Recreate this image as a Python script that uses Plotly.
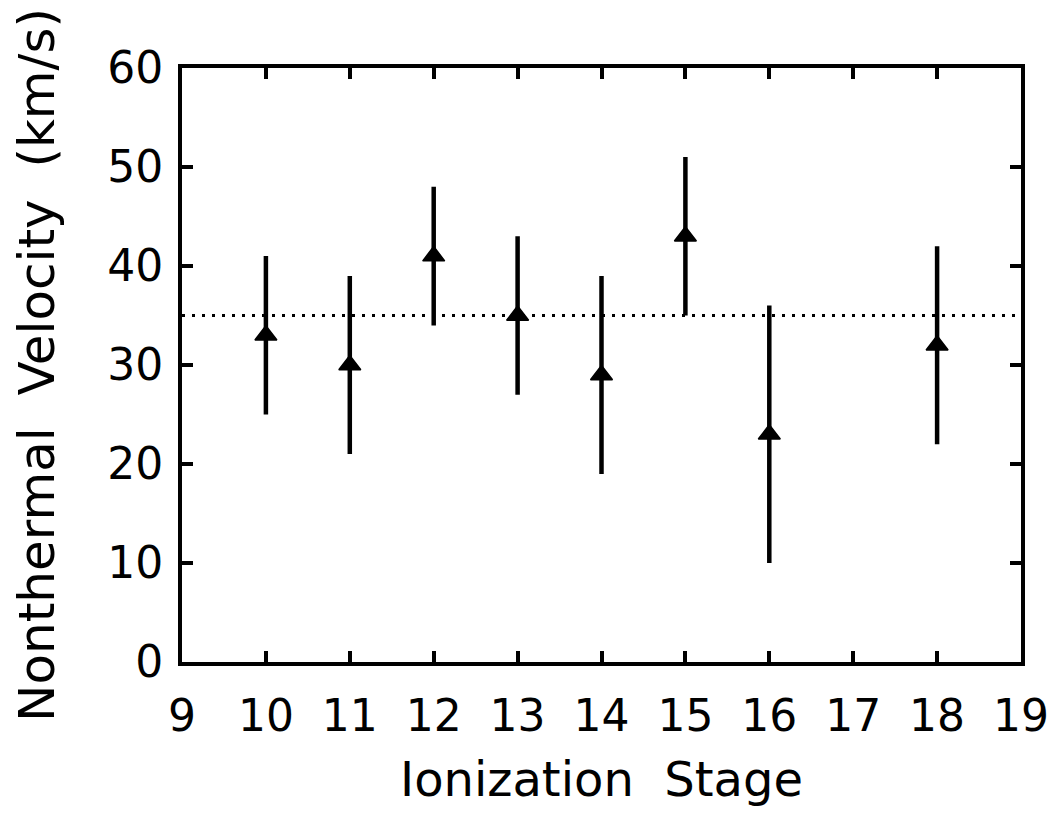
import plotly.graph_objects as go

stage = [10, 11, 12, 13, 14, 15, 16, 18]
velocity = [33, 30, 41, 35, 29, 43, 23, 32]
err_low = [25, 21, 34, 27, 19, 35, 10, 22]
err_high = [41, 39, 48, 43, 39, 51, 36, 42]
mean_level = 35
x_ticks = list(range(9, 20))
y_ticks = [0, 10, 20, 30, 40, 50, 60]

err_plus = [h - v for h, v in zip(err_high, velocity)]
err_minus = [v - l for l, v in zip(err_low, velocity)]

FONT = "DejaVu Sans, sans-serif"

fig = go.Figure()
fig.add_trace(go.Scatter(
    x=[9, 19], y=[mean_level, mean_level], mode="lines",
    line=dict(color="black", width=3, dash="3px,7px"), showlegend=False, hoverinfo="skip"))
fig.add_trace(go.Scatter(
    x=stage, y=velocity, mode="markers",
    marker=dict(symbol="triangle-up", size=19, color="black", line=dict(width=1.5, color="black")),
    error_y=dict(type="data", symmetric=False, array=err_plus, arrayminus=err_minus,
                 thickness=4.5, width=0, color="black"),
    showlegend=False))

axis_common = dict(showline=True, linewidth=4, linecolor="black", mirror="ticks",
                   ticks="inside", ticklen=11, tickwidth=4, tickcolor="black",
                   showgrid=False, zeroline=False,
                   tickfont=dict(family=FONT, size=44, color="black"))

fig.update_xaxes(range=[9, 19], tickvals=x_ticks, ticktext=[str(v) for v in x_ticks],
                 ticklabelstandoff=12,
                 title=dict(text="Ionization  Stage", font=dict(family=FONT, size=48, color="black"), standoff=24),
                 **axis_common)
fig.update_yaxes(range=[0, 60], tickvals=y_ticks, ticktext=[str(v) for v in y_ticks],
                 ticklabelstandoff=6,
                 title=dict(text="Nonthermal  Velocity  (km/s)", font=dict(family=FONT, size=50, color="black"), standoff=40),
                 **axis_common)

fig.update_layout(width=1058, height=817, plot_bgcolor="white", paper_bgcolor="white",
                  margin=dict(l=174, r=45, t=60, b=163))
fig.write_html("out.html")
